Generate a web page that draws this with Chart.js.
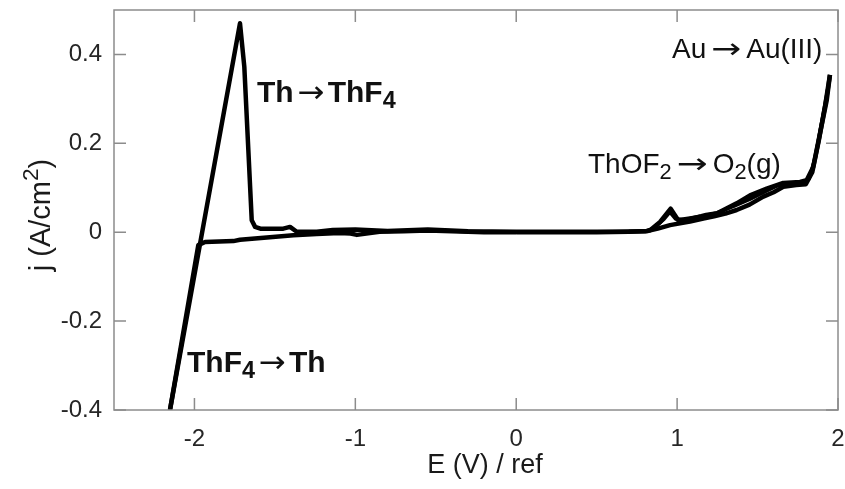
<!DOCTYPE html>
<html>
<head>
<meta charset="utf-8">
<script src="https://cdn.jsdelivr.net/npm/chart.js@4.4.1/dist/chart.umd.min.js"></script>
<style>
html,body{margin:0;padding:0;background:#fff;}
#wrap{width:845px;height:489px;}
</style>
</head>
<body>
<div id="wrap"><canvas id="c" width="845" height="489"></canvas></div>
<script>
// ---- axes ----
const xTicks = [-2, -1, 0, 1, 2];
const xTickLabels = ['-2', '-1', '0', '1', '2'];
const yTicks = [-0.4, -0.2, 0, 0.2, 0.4];
const yTickLabels = ['-0.4', '-0.2', '0', '0.2', '0.4'];
const xMin = -2.5, xMax = 2;
const yMin = -0.4, yMax = 0.5;
const xTitle = 'E (V) / ref';
const yTitleParts = [['j (A/cm', ''], ['2', 'sup'], [')', '']];

// ---- cyclic voltammogram (E in V, j in A/cm2) ----
// sweep 1: from 0 V towards the cathodic limit
const cathE = [0.00, -0.20, -0.40, -0.55, -0.70, -0.85, -0.99, -1.03, -1.10, -1.24, -1.385, -1.55, -1.717, -1.758, -1.934, -1.976, -2.152];
const cathJ = [0.000, 0.000, 0.002, 0.004, 0.002, 0.001, -0.006, -0.003, -0.002, -0.004, -0.007, -0.012, -0.017, -0.020, -0.022, -0.029, -0.400];
// sweep 2: from the cathodic limit to the anodic limit
const anodE = [-2.152, -1.970, -1.717, -1.690, -1.665, -1.644, -1.623, -1.590, -1.448, -1.406, -1.364, -1.240, -1.140, -1.000, -0.800, -0.550, -0.300, 0.000, 0.300, 0.600, 0.800, 0.832, 0.894, 0.960, 1.007, 1.080, 1.167, 1.246, 1.370, 1.453, 1.557, 1.660, 1.764, 1.805, 1.846, 1.888, 1.930, 1.950];
const anodJ = [-0.400, -0.036, 0.470, 0.372, 0.185, 0.027, 0.012, 0.008, 0.008, 0.012, 0.001, 0.001, 0.005, 0.006, 0.003, 0.006, 0.002, 0.001, 0.001, 0.001, 0.002, 0.0045, 0.023, 0.053, 0.027, 0.031, 0.036, 0.042, 0.065, 0.083, 0.098, 0.111, 0.113, 0.117, 0.147, 0.222, 0.297, 0.354];
// sweep 3: reverse from the anodic limit back to 0 V
const revE = [1.950, 1.920, 1.880, 1.840, 1.800, 1.740, 1.660, 1.600, 1.536, 1.450, 1.370, 1.300, 1.230, 1.163, 1.080, 0.956, 0.880, 0.820, 0.700, 0.500, 0.300, 0.000];
const revJ = [0.354, 0.285, 0.205, 0.135, 0.108, 0.106, 0.102, 0.090, 0.080, 0.062, 0.050, 0.042, 0.036, 0.031, 0.024, 0.016, 0.008, 0.003, 0.001, 0.000, 0.000, 0.000];
// second anodic pass over the oxidation region
const anod2E = [0.800, 0.860, 0.920, 0.955, 0.990, 1.050, 1.150, 1.180, 1.250, 1.350, 1.450, 1.550, 1.620, 1.700, 1.780, 1.820, 1.860, 1.900, 1.940];
const anod2J = [0.002, 0.010, 0.030, 0.045, 0.030, 0.028, 0.037, 0.040, 0.044, 0.058, 0.074, 0.092, 0.104, 0.109, 0.112, 0.120, 0.170, 0.250, 0.330];

// ---- reaction labels (anchor: left end of baseline, in data units) ----
const labels = [
  { parts: [['Th', ''], ['\u2192', 'arr'], ['ThF', ''], ['4', 'sub']], E: -1.611, j: 0.2935, bold: true, size: 30, arrowW: 27, gap: 3.5 },
  { parts: [['ThF', ''], ['4', 'sub'], ['\u2192', 'arr'], ['Th', '']], E: -2.046, j: -0.315, bold: true, size: 30, arrowW: 27, gap: 3.5 },
  { parts: [['ThOF', ''], ['2', 'sub'], ['\u2192', 'arr'], ['O', ''], ['2', 'sub'], ['(g)', '']], E: 0.446, j: 0.133, bold: false, size: 28, arrowW: 31, gap: 5 },
  { parts: [['Au', ''], ['\u2192', 'arr'], ['Au(III)', '']], E: 0.968, j: 0.392, bold: false, size: 28, arrowW: 30, gap: 5 }
];

const FONT = "'Liberation Sans', Arial, Helvetica, sans-serif";
const pts = (xs, ys) => xs.map((v, i) => ({ x: v, y: ys[i] }));

function segFont(k, size, weight) {
  if (k === 'arr') return `normal ${size}px 'DejaVu Sans', sans-serif`;
  if (k === 'sub' || k === 'sup') return `${weight} ${size * 0.78}px ${FONT}`;
  return `${weight} ${size}px ${FONT}`;
}
function richWidth(ctx, parts, size, weight) {
  let w = 0;
  parts.forEach(([t, k]) => { ctx.font = segFont(k, size, weight); w += ctx.measureText(t).width; });
  return w;
}
function drawRich(ctx, parts, x, y, size, weight, arrowW, gap) {
  let cx = x;
  parts.forEach(([t, k]) => {
    ctx.font = segFont(k, size, weight);
    const mw = ctx.measureText(t).width;
    if (k === 'arr') {
      cx += gap;
      ctx.save();
      ctx.translate(cx, y);
      ctx.scale(arrowW / mw, 1);
      ctx.fillText(t, 0, 0);
      ctx.restore();
      cx += arrowW + gap;
      return;
    }
    const dy = k === 'sub' ? size * 0.2 : (k === 'sup' ? -size * 0.42 : 0);
    ctx.fillText(t, cx, y + dy);
    cx += mw;
  });
}

const TL = 12;
const decor = {
  id: 'decor',
  afterDraw(chart) {
    const { ctx, chartArea: a, scales: { x, y } } = chart;
    ctx.save();
    // frame + inward ticks
    ctx.strokeStyle = '#8c8c8c';
    ctx.lineWidth = 1.5;
    ctx.strokeRect(a.left, a.top, a.right - a.left, a.bottom - a.top);
    ctx.beginPath();
    xTicks.forEach(v => {
      const p = x.getPixelForValue(v);
      ctx.moveTo(p, a.bottom); ctx.lineTo(p, a.bottom - TL);
      ctx.moveTo(p, a.top); ctx.lineTo(p, a.top + TL);
    });
    yTicks.forEach(v => {
      const p = y.getPixelForValue(v);
      ctx.moveTo(a.left, p); ctx.lineTo(a.left + TL, p);
      ctx.moveTo(a.right, p); ctx.lineTo(a.right - TL, p);
    });
    ctx.stroke();

    // reaction labels
    ctx.fillStyle = '#111';
    ctx.textBaseline = 'alphabetic';
    ctx.textAlign = 'left';
    labels.forEach(l => {
      drawRich(ctx, l.parts, x.getPixelForValue(l.E), y.getPixelForValue(l.j), l.size, l.bold ? 'bold' : 'normal', l.arrowW, l.gap);
    });

    // axis titles
    ctx.fillStyle = '#1a1a1a';
    ctx.font = `normal 27px ${FONT}`;
    ctx.textAlign = 'center';
    ctx.fillText(xTitle, (a.left + a.right) / 2 + 9, chart.height - 16);

    ctx.textAlign = 'left';
    const w = richWidth(ctx, yTitleParts, 29, 'normal');
    ctx.translate(50, (a.top + a.bottom) / 2 + 5);
    ctx.rotate(-Math.PI / 2);
    drawRich(ctx, yTitleParts, -w / 2, 0, 29, 'normal', 0, 0);
    ctx.restore();
  }
};

const lineStyle = { borderColor: '#000', borderWidth: 4.5, pointRadius: 0, showLine: true, tension: 0, fill: false, borderJoinStyle: 'round' };

new Chart(document.getElementById('c'), {
  type: 'scatter',
  data: {
    datasets: [
      { label: 'cathodic', data: pts(cathE, cathJ), ...lineStyle },
      { label: 'anodic', data: pts(anodE, anodJ), ...lineStyle },
      { label: 'reverse', data: pts(revE, revJ), ...lineStyle },
      { label: 'anodic 2', data: pts(anod2E, anod2J), ...lineStyle, borderWidth: 3.5 }
    ]
  },
  options: {
    responsive: false,
    animation: false,
    devicePixelRatio: 1,
    layout: { padding: { top: 10, right: 7, left: 0, bottom: 0 } },
    plugins: { legend: { display: false }, tooltip: { enabled: false } },
    scales: {
      x: {
        type: 'linear', min: xMin, max: xMax,
        grid: { display: false, drawTicks: false },
        border: { display: false },
        afterBuildTicks: s => { s.ticks = xTicks.map(v => ({ value: v })); },
        afterFit: s => { s.height = 79; s.paddingLeft = 0; s.paddingRight = 0; },
        ticks: {
          autoSkip: false, maxRotation: 0, padding: 15, color: '#262626',
          font: { family: FONT, size: 24 },
          callback: (v, i) => xTickLabels[i]
        }
      },
      y: {
        type: 'linear', min: yMin, max: yMax,
        grid: { display: false, drawTicks: false },
        border: { display: false },
        afterBuildTicks: s => { s.ticks = yTicks.map(v => ({ value: v })); },
        afterFit: s => { s.width = 114; s.paddingTop = 0; s.paddingBottom = 0; },
        ticks: {
          autoSkip: false, padding: 12, color: '#262626',
          font: { family: FONT, size: 24 },
          callback: (v, i) => yTickLabels[i]
        }
      }
    }
  },
  plugins: [decor]
});
</script>
</body>
</html>
